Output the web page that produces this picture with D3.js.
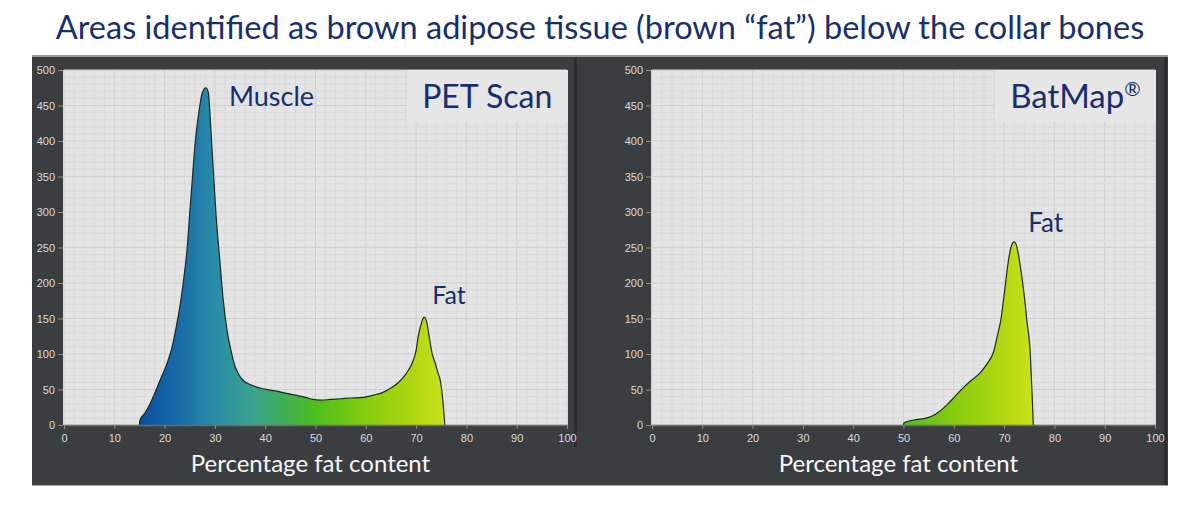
<!DOCTYPE html>
<html>
<head>
<meta charset="utf-8">
<script src="https://cdn.jsdelivr.net/npm/d3@7"></script>
<style>
  body { margin: 0; background: #fff; }
  svg { display: block; }
</style>
</head>
<body>
<svg id="viz"></svg>
<script>
// ---- data ----
const titleText = 'Areas identified as brown adipose tissue (brown \u201cfat\u201d) below the collar bones';
const xTicks = [0, 10, 20, 30, 40, 50, 60, 70, 80, 90, 100];
const yTicks = [0, 50, 100, 150, 200, 250, 300, 350, 400, 450, 500];
const axisTitle = 'Percentage fat content';

// PET scan histogram (percent fat, voxel count)
const petX = [15, 15.1, 16, 17, 17.7, 19.1, 20.5, 21.5, 22.2, 23, 23.7, 24.5, 25, 25.5, 26, 26.8, 27.5, 28.2, 28.7, 29, 29.4, 29.8, 30.2, 31, 31.6, 32.4, 33.2, 33.8, 34.6, 35.6, 37, 39.6, 42, 44, 46, 48, 49.5, 51, 53, 55, 57, 59.5, 61.5, 63.4, 65, 66.8, 68, 69.2, 70, 70.4, 71, 71.6, 72, 72.6, 73.2, 73.8, 74.4, 74.8, 75.3, 75.6, 75.7];
const petY = [0, 7, 16, 28, 39, 63, 87, 110, 134, 165, 200, 250, 299, 345, 392, 440, 468, 475, 468, 440, 392, 345, 299, 230, 180, 134, 105, 87, 73, 63, 57, 51, 48, 45, 42, 39, 36, 35, 36, 37, 38, 39, 42, 46, 52, 62, 72, 87, 105, 124, 142, 152, 148, 124, 100, 87, 72, 63, 35, 10, 0];

// BatMap histogram
const batX = [50, 50.1, 52, 54.7, 56.5, 58.6, 60.2, 61.8, 63.5, 65.2, 66.6, 67.8, 68.8, 69.4, 69.8, 70.3, 70.6, 71.4, 72, 72.4, 72.8, 73.3, 73.8, 74.2, 74.5, 75.2, 75.5, 75.7, 75.8];
const batY = [0, 3, 7, 10, 16, 28, 40, 52, 63, 73, 86, 101, 130, 150, 172, 200, 218, 251, 258, 254, 242, 220, 194, 170, 148, 101, 54, 20, 0];

// fill colour by fat percentage
const gradValues = [15, 22, 30, 38, 45, 50, 60, 70, 76];
const gradColors = ['#0c4d9f', '#1568a7', '#2a8ca8', '#3aa38a', '#42b24a', '#4cbf1e', '#86cc10', '#b2d812', '#cde21c'];

/** Initial setting */
var width = 1200;
var height = 520;
var ink = '#172f6c';

var svg = d3.select('#viz')
            .attr('width', width)
            .attr('height', height)
            .style('font-family', 'Lato, "Open Sans", sans-serif');

svg.append('text')
   .attr('x', 600)
   .attr('y', 39)
   .attr('text-anchor', 'middle')
   .attr('fill', ink)
   .style('font-size', '32.5px')
   .text(titleText);

// dark backdrop of the screenshot
svg.append('line')
   .attr('x1', 32).attr('x2', 1168).attr('y1', 56).attr('y2', 56)
   .attr('stroke', '#9b9b9b').attr('stroke-width', 2);
svg.append('rect')
   .attr('x', 32).attr('y', 57).attr('width', 1136).attr('height', 428)
   .attr('fill', '#3b3e41');
svg.append('line')
   .attr('x1', 32).attr('x2', 1168).attr('y1', 485.5).attr('y2', 485.5)
   .attr('stroke', '#a5a5a5');
svg.append('rect')
   .attr('x', 574).attr('y', 57).attr('width', 3).attr('height', 390)
   .attr('fill', '#2a2c2f');
svg.append('rect')
   .attr('x', 1164).attr('y', 57).attr('width', 3).attr('height', 428)
   .attr('fill', '#2a2c2f');

var colorScale = d3.scaleLinear().domain(gradValues).range(gradColors);

function panel(opts) {
    var xScale = d3.scaleLinear().domain([0, 100]).range([opts.left, opts.left + 503]);
    var yScale = d3.scaleLinear().domain([0, 500]).range([425, 70]);
    var g = svg.append('g');

    // plot background
    g.append('rect')
     .attr('x', xScale(0) - 1).attr('y', yScale(500))
     .attr('width', xScale(100) - xScale(0) + 2).attr('height', yScale(0) - yScale(500))
     .attr('fill', '#e4e4e4');

    // minor + major grid
    var grid = g.append('g');
    grid.selectAll('.vmin').data(d3.range(0, 101, 2)).enter().append('line')
        .attr('x1', d => xScale(d)).attr('x2', d => xScale(d))
        .attr('y1', yScale(500)).attr('y2', yScale(0))
        .attr('stroke', d => d % 10 === 0 ? '#cfcfcf' : '#dadada')
        .attr('stroke-width', 1);
    grid.selectAll('.hmin').data(d3.range(0, 501, 10)).enter().append('line')
        .attr('x1', xScale(0)).attr('x2', xScale(100))
        .attr('y1', d => yScale(d)).attr('y2', d => yScale(d))
        .attr('stroke', d => d % 50 === 0 ? '#cfcfcf' : '#dadada')
        .attr('stroke-width', 1);

    // label box (covers grid)
    g.append('rect')
     .attr('x', opts.boxX).attr('y', yScale(500))
     .attr('width', xScale(100) - opts.boxX + 1).attr('height', 52)
     .attr('fill', '#e6e6e6');

    // gradient for the area
    var grad = svg.append('defs').append('linearGradient')
        .attr('id', opts.id + 'grad')
        .attr('gradientUnits', 'userSpaceOnUse')
        .attr('x1', xScale(gradValues[0])).attr('x2', xScale(gradValues[gradValues.length - 1]))
        .attr('y1', 0).attr('y2', 0);
    var span = gradValues[gradValues.length - 1] - gradValues[0];
    grad.selectAll('stop').data(gradValues).enter().append('stop')
        .attr('offset', d => (d - gradValues[0]) / span)
        .attr('stop-color', d => colorScale(d));

    var pts = opts.xs.map((x, i) => [x, opts.ys[i]]);
    var area = d3.area()
        .x(d => xScale(d[0]))
        .y0(yScale(0))
        .y1(d => yScale(d[1]))
        .curve(d3.curveMonotoneX);
    var line = d3.line()
        .x(d => xScale(d[0]))
        .y(d => yScale(d[1]))
        .curve(d3.curveMonotoneX);

    g.append('path').datum(pts)
     .attr('d', area)
     .attr('fill', `url(#${opts.id}grad)`);
    g.append('path').datum(pts)
     .attr('d', line)
     .attr('fill', 'none')
     .attr('stroke', '#1d2a22')
     .attr('stroke-width', 1.2);

    // axes
    var yAxis = d3.axisLeft(yScale).tickValues(yTicks).tickSize(5).tickPadding(3);
    var xAxis = d3.axisBottom(xScale).tickValues(xTicks).tickSize(4).tickPadding(5);

    var ya = g.append('g')
        .attr('transform', `translate(${xScale(0) - 1},0)`)
        .call(yAxis);
    var xa = g.append('g')
        .attr('transform', `translate(0,${yScale(0)})`)
        .call(xAxis);
    [ya, xa].forEach(a => {
        a.selectAll('text')
         .attr('fill', '#dadada')
         .style('font-family', '"Liberation Sans", Arial, sans-serif')
         .style('font-size', '11px');
        a.selectAll('.tick line').attr('stroke', '#8a8a8a');
    });
    ya.select('.domain').remove();
    xa.select('.domain').attr('stroke', '#6c6c6c').attr('stroke-width', 1.5);

    // axis title
    g.append('text')
     .attr('x', xScale(49))
     .attr('y', 472)
     .attr('text-anchor', 'middle')
     .attr('fill', '#f6f6f6')
     .style('font-size', '24px')
     .text(axisTitle);

    // annotations
    opts.notes.forEach(n => {
        var t = g.append('text')
         .attr('x', xScale(n.x))
         .attr('y', yScale(n.y))
         .attr('fill', ink)
         .style('font-size', n.size + 'px')
         .text(n.text);
        if (n.sup) {
            t.append('tspan')
             .attr('dy', -12)
             .style('font-size', (n.size * 0.6) + 'px')
             .text(n.sup);
        }
    });
}

panel({
    id: 'pet', left: 64, boxX: 407, xs: petX, ys: petY,
    notes: [
        {text: 'Muscle', x: 32.8, y: 449, size: 27},
        {text: 'PET Scan', x: 71.2, y: 447, size: 32},
        {text: 'Fat', x: 73.2, y: 170, size: 25}
    ]
});
panel({
    id: 'bat', left: 652, boxX: 995, xs: batX, ys: batY,
    notes: [
        {text: 'BatMap', sup: '\u00ae', x: 71.2, y: 447, size: 33},
        {text: 'Fat', x: 74.8, y: 272, size: 26}
    ]
});
</script>
</body>
</html>
